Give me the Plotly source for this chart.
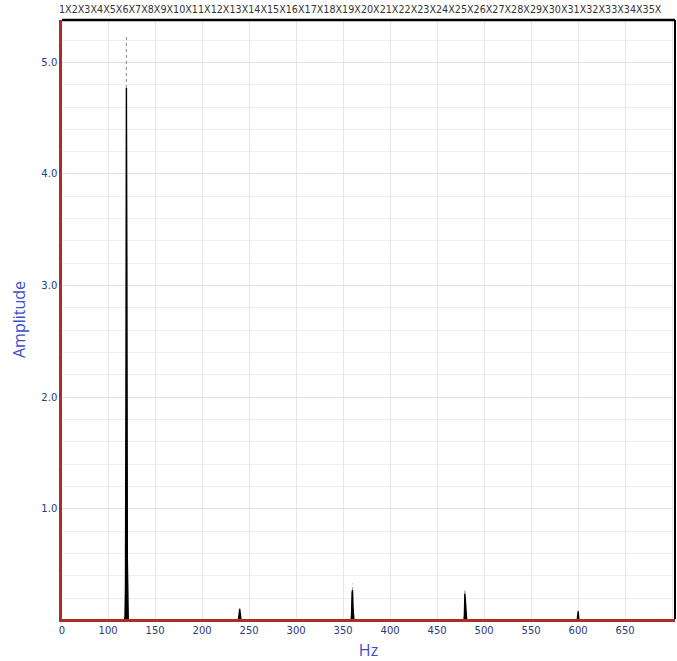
import plotly.graph_objects as go

# Spectrum bins (Hz) and amplitudes around the running-speed harmonics
freq_hz = [51, 117.5, 118.0, 118.5, 119.0, 119.5, 120.0, 120.5, 121.0, 121.5,
           238.5, 239.0, 239.5, 240.0, 240.5, 241.0, 241.5,
           358.5, 359.0, 359.5, 360.0, 360.5, 361.0, 361.5,
           478.5, 479.0, 479.5, 480.0, 480.5, 481.0, 481.5,
           599.0, 599.5, 600.0, 600.5, 601.0, 703]
amplitude = [0.0, 0.0, 0.03, 0.28, 1.95, 4.77, 3.20, 0.55, 0.04, 0.0,
             0.0, 0.02, 0.06, 0.10, 0.05, 0.01, 0.0,
             0.0, 0.05, 0.24, 0.27, 0.12, 0.02, 0.0,
             0.0, 0.05, 0.24, 0.17, 0.09, 0.02, 0.0,
             0.0, 0.03, 0.08, 0.03, 0.0, 0.0]

# Peak-hold maxima at each harmonic
hold_hz = [119.5, 240.0, 360.0, 479.5, 600.0]
hold_live = [4.77, 0.10, 0.27, 0.24, 0.08]
hold_max = [5.25, 0.11, 0.33, 0.29, 0.09]

# Axis ticks
x_tick_vals = [51, 100, 150, 200, 250, 300, 350, 400, 450, 500, 550, 600, 650, 700]
x_tick_text = ["0", "100", "150", "200", "250", "300", "350", "400", "450",
               "500", "550", "600", "650", ""]
y_tick_vals = [1, 2, 3, 4, 5]
y_tick_text = ["1.0", "2.0", "3.0", "4.0", "5.0"]
order_labels = [f"{k}X" for k in range(1, 36)]

hx, hy = [], []
for f, lo, hi in zip(hold_hz, hold_live, hold_max):
    hx += [f, f, None]
    hy += [lo, hi, None]

fig = go.Figure()
fig.add_trace(go.Scatter(x=hx, y=hy, mode="lines",
                         line=dict(color="#9a9a9a", width=1.2, dash="dot"),
                         hoverinfo="skip", showlegend=False))
fig.add_trace(go.Scatter(x=freq_hz, y=amplitude, mode="lines",
                         line=dict(color="black", width=1.4),
                         fill="tozeroy", fillcolor="black",
                         showlegend=False))

tick_font = dict(family="DejaVu Sans", size=10, color="#2b3a78")
title_font = dict(family="Open Sans", size=16, color="#3a4fc8")

fig.update_layout(
    width=677, height=661,
    margin=dict(l=62, r=2, t=20, b=42),
    paper_bgcolor="white", plot_bgcolor="white",
    xaxis=dict(range=[51, 703], tickmode="array", tickvals=x_tick_vals,
               ticktext=x_tick_text, tickfont=tick_font, ticks="",
               showgrid=True, gridcolor="#e6e6e6", gridwidth=1,
               zeroline=False, showline=True, linecolor="#b02a2a", linewidth=3,
               layer="above traces",
               title=dict(text="Hz", font=title_font, standoff=12)),
    yaxis=dict(range=[0.012, 5.38], tickmode="array", tickvals=y_tick_vals,
               ticktext=y_tick_text, tickfont=tick_font, ticks="",
               showgrid=True, gridcolor="#e2e2e2", gridwidth=1,
               minor=dict(dtick=0.2, showgrid=True, gridcolor="#efefef", gridwidth=1),
               zeroline=False, showline=True, linecolor="#b02a2a", linewidth=2.5,
               layer="above traces",
               title=dict(text="Amplitude", font=title_font, standoff=12)),
    shapes=[
        dict(type="line", xref="paper", yref="paper", x0=0, x1=1, y0=1, y1=1,
             line=dict(color="black", width=2.5)),
        dict(type="line", xref="paper", yref="paper", x0=1, x1=1, y0=0, y1=1,
             line=dict(color="black", width=2)),
    ],
    annotations=[
        dict(text="".join(order_labels), xref="paper", yref="paper",
             x=0, y=1, xanchor="left", yanchor="bottom", xshift=-5, yshift=3,
             showarrow=False,
             font=dict(family="DejaVu Sans", size=9.6, color="#333333")),
    ],
)

fig.write_html("out.html")
